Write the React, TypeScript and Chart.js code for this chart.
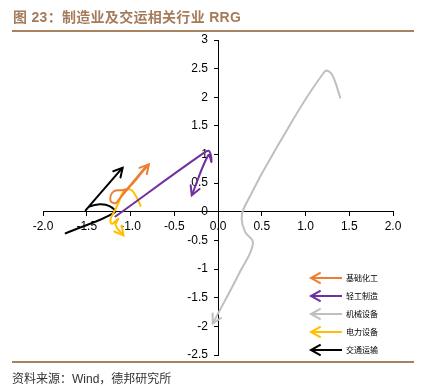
import React, { useEffect, useRef } from "react";
import { Chart, registerables } from "chart.js";

Chart.register(...registerables);

const seriesNames = ["基础化工", "轻工制造", "机械设备", "电力设备", "交通运输"];
const seriesColors = ["#ED7D31", "#7030A0", "#BFBFBF", "#FFC000", "#000000"];

const orangeX = [-1.09, -0.83, -1.04, -1.19, -1.23, -1.17, -1.12, -0.79];
const orangeY = [0.30, 0.78, 0.40, 0.36, 0.20, 0.15, 0.24, 0.83];

const purpleX = [-1.18, -0.17, -0.10, -0.075, -0.11, -0.30];
const purpleY = [-0.09, 1.02, 1.06, 0.87, 0.99, 0.29];

const grayX = [1.40, 1.30, 1.22, 0.70, 0.30, 0.27, 0.31, 0.40, 0.25, -0.06];
const grayY = [1.98, 2.40, 2.45, 1.20, 0.08, -0.12, -0.35, -0.55, -1.05, -1.95];

const yellowX = [-0.88, -0.94, -1.00, -1.08, -1.13, -1.18, -1.23, -1.21, -1.14, -1.17, -1.08];
const yellowY = [0.09, 0.28, 0.39, 0.35, 0.18, 0.02, -0.14, -0.21, -0.12, -0.24, -0.41];

const blackX = [-1.75, -1.18, -1.24, -1.35, -1.47, -1.51, -1.09];
const blackY = [-0.38, -0.01, 0.10, 0.13, 0.09, 0.03, 0.77];

const xTicks = [-2, -1.5, -1, -0.5, 0, 0.5, 1, 1.5, 2];
const yTicks = [-2.5, -2, -1.5, -1, -0.5, 0, 0.5, 1, 1.5, 2, 2.5, 3];

const allX = [orangeX, purpleX, grayX, yellowX, blackX];
const allY = [orangeY, purpleY, grayY, yellowY, blackY];

const toPoints = (xs: number[], ys: number[]) => xs.map((x, i) => ({ x, y: ys[i] }));

function drawArrowHead(ctx: CanvasRenderingContext2D, tipX: number, tipY: number, ang: number, len: number, spread: number) {
  ctx.beginPath();
  ctx.moveTo(tipX + len * Math.cos(ang + Math.PI - spread), tipY + len * Math.sin(ang + Math.PI - spread));
  ctx.lineTo(tipX, tipY);
  ctx.lineTo(tipX + len * Math.cos(ang + Math.PI + spread), tipY + len * Math.sin(ang + Math.PI + spread));
  ctx.stroke();
}

const arrowPlugin = {
  id: "arrowHeads",
  afterDatasetsDraw(chart: any) {
    const ctx = chart.ctx as CanvasRenderingContext2D;
    chart.data.datasets.forEach((ds: any, i: number) => {
      const meta = chart.getDatasetMeta(i);
      const pts = meta.data;
      const n = pts.length;
      if (n < 2) return;
      const last = pts[n - 1];
      let px = last.controlPointPreviousX;
      let py = last.controlPointPreviousY;
      if (px === undefined || (Math.abs(px - last.x) < 0.5 && Math.abs(py - last.y) < 0.5)) {
        px = pts[n - 2].x;
        py = pts[n - 2].y;
      }
      const ang = Math.atan2(last.y - py, last.x - px);
      ctx.save();
      ctx.strokeStyle = ds.borderColor;
      ctx.lineWidth = 2;
      ctx.lineCap = "round";
      ctx.lineJoin = "miter";
      drawArrowHead(ctx, last.x, last.y, ang, 10, 0.5);
      ctx.restore();
    });
  },
};

const legendPlugin = {
  id: "arrowLegend",
  afterDraw(chart: any) {
    const ctx = chart.ctx as CanvasRenderingContext2D;
    chart.data.datasets.forEach((ds: any, i: number) => {
      const y = 278 + i * 18;
      const tipX = 311;
      const tailX = 342;
      ctx.save();
      ctx.strokeStyle = ds.borderColor;
      ctx.lineWidth = 2;
      ctx.lineCap = "butt";
      ctx.beginPath();
      ctx.moveTo(tailX, y);
      ctx.lineTo(tipX + 1, y);
      ctx.stroke();
      drawArrowHead(ctx, tipX, y, Math.PI, 11, 0.5);
      ctx.fillStyle = "#000";
      ctx.font = '8px "Noto Sans CJK SC", sans-serif';
      ctx.textBaseline = "middle";
      ctx.textAlign = "left";
      ctx.fillText(ds.label, 346, y);
      ctx.restore();
    });
  },
};

export default function App() {
  const ref = useRef<HTMLCanvasElement | null>(null);
  useEffect(() => {
    if (!ref.current) return;
    const datasets = seriesNames.map((name, i) => ({
      label: name,
      data: toPoints(allX[i], allY[i]),
      showLine: true,
      borderColor: seriesColors[i],
      backgroundColor: seriesColors[i],
      borderWidth: 2,
      pointRadius: 0,
      tension: 0.4,
      fill: false,
    }));
    const tickFont = { family: '"Liberation Sans", Arial, sans-serif', size: 12 };
    const chart = new Chart(ref.current, {
      type: "scatter",
      data: { datasets },
      options: {
        responsive: false,
        animation: false,
        devicePixelRatio: 1,
        layout: { padding: { left: 43, right: 34, top: 40, bottom: 31 } },
        plugins: { legend: { display: false }, tooltip: { enabled: false }, title: { display: false } },
        scales: {
          x: {
            type: "linear",
            min: -2,
            max: 2,
            position: { y: 0 },
            afterBuildTicks: (s: any) => { s.ticks = xTicks.map((v) => ({ value: v })); },
            afterFit: (s: any) => { s.height = 0; },
            grid: { display: true, drawOnChartArea: false, drawTicks: true, tickLength: 4, color: "#000" },
            border: { display: true, color: "#000", width: 1 },
            ticks: {
              color: "#000",
              font: tickFont,
              padding: 4,
              maxRotation: 0,
              autoSkip: false,
              callback: (v: any) => Number(v).toFixed(1),
            },
          },
          y: {
            type: "linear",
            min: -2.5,
            max: 3,
            position: { x: 0 },
            afterBuildTicks: (s: any) => { s.ticks = yTicks.map((v) => ({ value: v })); },
            afterFit: (s: any) => { s.width = 0; },
            grid: { display: true, drawOnChartArea: false, drawTicks: true, tickLength: 4, color: "#000" },
            border: { display: true, color: "#000", width: 1 },
            ticks: {
              color: "#000",
              font: tickFont,
              padding: 3,
              autoSkip: false,
              callback: (v: any) => String(v) + "   ",
            },
          },
        },
      },
      plugins: [arrowPlugin, legendPlugin],
    } as any);
    return () => chart.destroy();
  }, []);

  return (
    <div style={{ position: "absolute", left: 0, top: 0, width: 427, height: 386, background: "#fff" }}>
      <canvas ref={ref} width={427} height={386} style={{ position: "absolute", left: 0, top: 0, width: 427, height: 386 }} />
      <div
        style={{
          position: "absolute",
          left: 13,
          top: 7,
          fontFamily: '"Liberation Sans", "Noto Sans CJK SC", sans-serif',
          fontWeight: "bold",
          fontSize: 14,
          letterSpacing: 0.3,
          lineHeight: "20px",
          color: "#A57C5B",
          whiteSpace: "nowrap",
        }}
      >
        图 23：制造业及交运相关行业 RRG
      </div>
      <div style={{ position: "absolute", left: 12, top: 30, width: 402, height: 2, background: "#A8825F" }} />
      <div style={{ position: "absolute", left: 12, top: 361, width: 402, height: 2, background: "#A8825F" }} />
      <div
        style={{
          position: "absolute",
          left: 12,
          top: 371,
          fontFamily: '"Liberation Sans", "Noto Sans CJK SC", sans-serif',
          fontSize: 12,
          lineHeight: "16px",
          color: "#333",
          whiteSpace: "nowrap",
        }}
      >
        资料来源：Wind，德邦研究所
      </div>
    </div>
  );
}
